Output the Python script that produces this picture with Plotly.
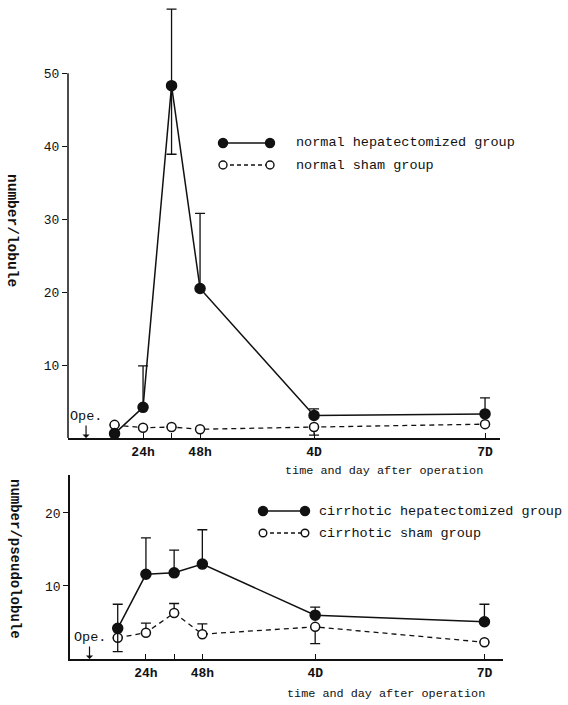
import plotly.graph_objects as go

W, H = 568, 705

# ---- data ----
hours = [12, 24, 36, 48, 96, 168]
x_tickvals = [24, 36, 48, 96, 168]
x_ticktext = ["<b>24h</b>", "", "<b>48h</b>", "<b>4D</b>", "<b>7D</b>"]

normal_hep = [0.6, 4.2, 48.3, 20.5, 3.1, 3.3]
normal_hep_plus = [None, 5.7, 10.5, 10.3, 0.9, 2.2]
normal_hep_minus = [None, None, 9.4, None, None, None]
normal_sham = [1.8, 1.4, 1.5, 1.2, 1.5, 1.9]
normal_sham_plus = [None, None, None, None, 0, None]
normal_sham_minus = [None, None, None, None, 1.1, None]

cirr_hep = [4.2, 11.6, 11.8, 13.0, 6.0, 5.1]
cirr_hep_plus = [3.3, 5.0, 3.1, 4.7, 1.1, 2.4]
cirr_hep_minus = [3.2, None, None, None, None, None]
cirr_sham = [2.9, 3.6, 6.3, 3.4, 4.4, 2.3]
cirr_sham_plus = [None, 1.3, 1.3, 1.4, 0, None]
cirr_sham_minus = [None, None, None, None, 2.3, None]

top_yticks = [10, 20, 30, 40, 50]
bottom_yticks = [10, 20]

FONT = "Liberation Mono"
INK = "#111111"

fig = go.Figure()


def add_series(x, y, plus, minus, filled, xa, ya):
    fig.add_trace(go.Scatter(
        x=x, y=y, xaxis=xa, yaxis=ya, mode="lines+markers",
        line=dict(color=INK, width=1.5 if filled else 1.3,
                  dash="solid" if filled else "5px,4px"),
        marker=dict(size=10 if filled else 9,
                    color=INK if filled else "white",
                    line=dict(color=INK, width=1.5)),
        error_y=dict(type="data", symmetric=False, array=plus, arrayminus=minus,
                     color=INK, thickness=1.3, width=5),
        showlegend=False, hoverinfo="skip"))


add_series(hours, normal_sham, normal_sham_plus, normal_sham_minus, False, "x", "y")
add_series(hours, normal_hep, normal_hep_plus, normal_hep_minus, True, "x", "y")
add_series(hours, cirr_sham, cirr_sham_plus, cirr_sham_minus, False, "x2", "y2")
add_series(hours, cirr_hep, cirr_hep_plus, cirr_hep_minus, True, "x2", "y2")


def px(x):
    return x / W


def py(y):
    return 1 - y / H


xcommon = dict(showgrid=False, zeroline=False, showline=True, linecolor=INK,
               linewidth=2, ticks="inside", ticklen=5, tickcolor=INK, tickwidth=1.3,
               tickvals=x_tickvals, ticktext=x_ticktext,
               tickfont=dict(family=FONT, size=13, color=INK))
ycommon = dict(showgrid=False, zeroline=False, ticks="outside", ticklen=5,
               tickcolor=INK, tickwidth=1.3,
               tickfont=dict(family=FONT, size=13, color=INK))

fig.update_layout(
    width=W, height=H, margin=dict(l=0, r=0, t=0, b=0),
    paper_bgcolor="white", plot_bgcolor="white",
    xaxis=dict(domain=[px(68), px(500)], range=[-7.6, 174.3], anchor="y", **xcommon),
    yaxis=dict(domain=[py(438), py(4)], range=[0, 59.5], anchor="x",
               showline=False, tickvals=top_yticks, **ycommon),
    xaxis2=dict(domain=[px(70), px(503)], range=[-8.3, 175.9], anchor="y2", **xcommon),
    yaxis2=dict(domain=[py(659), py(475)], range=[0, 25.2], anchor="x2",
                showline=True, linecolor=INK, linewidth=1.5,
                tickvals=bottom_yticks, **ycommon),
)

shapes = []
# top y-axis line only up to 50
shapes.append(dict(type="line", xref="x domain", yref="y", x0=0, x1=0, y0=0, y1=50,
                   line=dict(color=INK, width=1.5)))


def legend_row(x1, x2, y, text, filled, tx, r):
    shapes.append(dict(type="line", xref="paper", yref="paper",
                       x0=px(x1), x1=px(x2), y0=py(y), y1=py(y),
                       line=dict(color=INK, width=1.3, dash="solid" if filled else "4px,3px")))
    for xc in (x1, x2):
        shapes.append(dict(type="circle", xref="paper", yref="paper",
                           xsizemode="pixel", ysizemode="pixel",
                           xanchor=px(xc), yanchor=py(y), x0=-r, x1=r, y0=-r, y1=r,
                           fillcolor=INK if filled else "white",
                           line=dict(color=INK, width=1.4)))
    fig.add_annotation(xref="paper", yref="paper", x=px(tx), y=py(y), text=text,
                       showarrow=False, xanchor="left", yanchor="middle",
                       font=dict(family=FONT, size=13.5, color=INK))


legend_row(223, 270, 143, "normal hepatectomized group", True, 294, 4.5)
legend_row(223, 270, 165, "normal sham group", False, 294, 4)
legend_row(263, 305, 511, "cirrhotic hepatectomized group", True, 317, 4.5)
legend_row(263, 305, 533, "cirrhotic sham group", False, 317, 3.8)

fig.update_layout(shapes=shapes)


def text_at(x, y, text, size, angle=0):
    fig.add_annotation(xref="paper", yref="paper", x=px(x), y=py(y), text=text,
                       textangle=angle, showarrow=False, xanchor="center",
                       yanchor="middle", font=dict(family=FONT, size=size, color=INK))


# axis titles
text_at(12, 230, "<b>number/lobule</b>", 14.5, 90)
text_at(15, 559, "<b>number/pseudolobule</b>", 14, 90)
text_at(384, 471, "time and day after operation", 11.8)
text_at(386, 694, "time and day after operation", 11.8)

# operation markers
for xa, ya, ytext in (("x", "y", 3.0), ("x2", "y2", 2.9)):
    fig.add_annotation(xref=xa, yref=ya, x=0, y=ytext, text="Ope.", showarrow=False,
                       xanchor="center", yanchor="middle",
                       font=dict(family=FONT, size=13.5, color=INK))
    fig.add_annotation(xref=xa, yref=ya, x=0, y=0, ax=0, ay=-14, text="",
                       showarrow=True, arrowhead=1, arrowsize=1, arrowwidth=1.2,
                       arrowcolor=INK)

fig.write_html("out.html", config={"displayModeBar": False},
               post_script="document.body.style.margin='0px';")
